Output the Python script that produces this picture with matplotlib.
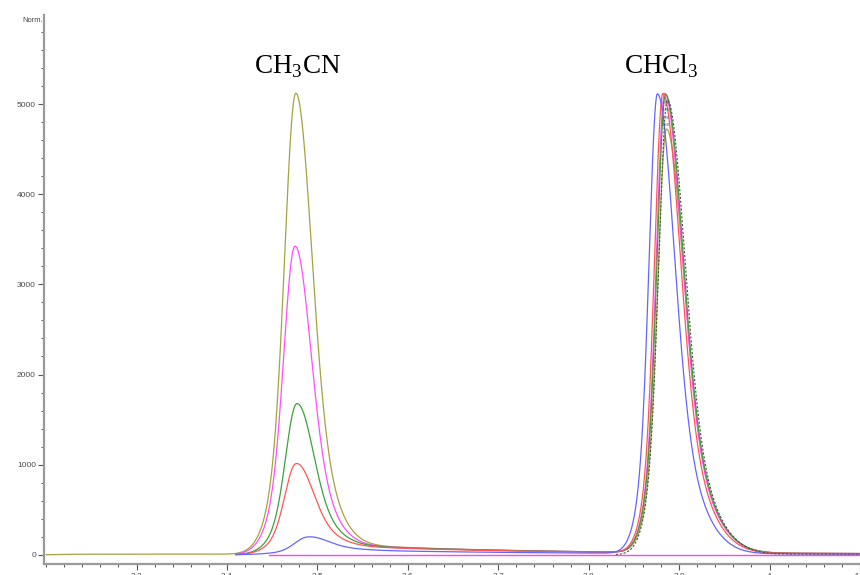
import numpy as np
import matplotlib.pyplot as plt
from matplotlib.ticker import MultipleLocator

plt.rcParams['mathtext.fontset'] = 'custom'
plt.rcParams['mathtext.rm'] = 'Liberation Serif'

# peak parameters (retention time in min, height in Norm.)
colors = ['#a3a341', '#ff4dff', '#3f9f3f', '#ff5555', '#6464ff', '#505050']
styles = ['-', '-', '-', '-', '-', '--']
start = [3.20, 3.41, 3.41, 3.41, 3.41, 3.83]

# CH3CN peak
ch3cn_rt = [3.476, 3.475, 3.477, 3.476, 3.488, 0]
ch3cn_h = [5045, 3350, 1605, 945, 160, 0]
ch3cn_sl = [0.0115, 0.0115, 0.0115, 0.0115, 0.013, 0.01]
ch3cn_sr = [0.0165, 0.0165, 0.017, 0.0175, 0.020, 0.01]
tail_amp = [138, 130, 125, 115, 60, 0]

# CHCl3 peak
chcl3_rt = [3.886, 3.884, 3.885, 3.882, 3.876, 3.887]
chcl3_h = [4700, 5095, 5085, 5095, 5100, 5040]
chcl3_sl = [0.0088, 0.0085, 0.0087, 0.0085, 0.0085, 0.0088]
chcl3_sr = [0.0180, 0.0180, 0.0180, 0.0178, 0.0175, 0.0180]

offset = [6, 8, 8, 8, 6, 6]


def peak(x, rt, h, sl, sr, kl, kr):
    d = x - rt
    s = np.where(d < 0, sl, sr)
    k = np.where(d < 0, kl, kr)
    return h * (0.7 * np.exp(-0.5 * (d / s) ** 2) + 0.3 * np.exp(-0.5 * (d / (k * s)) ** 2))


def tail(x, rt, amp, sl):
    onset = 0.5 * (1 + np.tanh((x - rt) / (1.5 * sl)))
    return amp * onset * np.exp(-np.clip(x - rt, 0, None) / 0.2)


fig = plt.figure(figsize=(8.6, 5.75), dpi=100)
ax = fig.add_axes([0.0515, 0.0186, 0.9485, 0.955])

for i in range(len(colors)):
    x = np.linspace(start[i], 4.1, 3000)
    y = np.zeros_like(x)
    if ch3cn_h[i] > 0:
        y += peak(x, ch3cn_rt[i], ch3cn_h[i], ch3cn_sl[i], ch3cn_sr[i], 1.8, 1.8)
        y += tail(x, ch3cn_rt[i], tail_amp[i], ch3cn_sl[i])
    y += peak(x, chcl3_rt[i], chcl3_h[i], chcl3_sl[i], chcl3_sr[i], 1.8, 2.0)
    ramp = np.clip((x - start[i]) / 0.03, 0, 1)
    y += offset[i] * ramp
    if styles[i] == '--':
        ax.plot(x, y, color=colors[i], lw=0.8, ls='--', dashes=(2, 1.5))
    else:
        ax.plot(x, y, color=colors[i], lw=0.9)

# blank run
ax.plot([3.447, 4.1], [0, 0], color='#ff40ff', lw=1.0)

# retention time marks at the CHCl3 apex
for yy in [5010, 4930, 4850, 4770]:
    ax.text(3.8855, yy, '3.88', fontsize=2.6, color='#555555', ha='center', va='center')

ax.text(3.4785, 5344, r'CH$_3$CN', fontsize=19.5, family='Liberation Serif',
        ha='center', va='baseline', color='black')
ax.text(3.880, 5344, r'CHCl$_3$', fontsize=19.5, family='Liberation Serif',
        ha='center', va='baseline', color='black')

ax.set_xlim(3.198, 4.095)
ax.set_ylim(-106, 5987)
ax.xaxis.set_minor_locator(MultipleLocator(0.02))
ax.yaxis.set_major_locator(MultipleLocator(1000))
ax.yaxis.set_minor_locator(MultipleLocator(200))
ax.set_xticks([3.3, 3.4, 3.5, 3.6, 3.7, 3.8, 3.9, 4.0, 4.1])
ax.set_xticklabels(['3.3', '3.4', '3.5', '3.6', '3.7', '3.8', '3.9', '4', '4.1'])

for side in ['top', 'right']:
    ax.spines[side].set_visible(False)
for side in ['left', 'bottom']:
    ax.spines[side].set_color('#9a9a9a')
    ax.spines[side].set_linewidth(1.6)

ax.tick_params(which='major', length=4, width=0.8, color='#555555', labelsize=6,
               labelcolor='#4a4a4a', pad=2)
ax.tick_params(which='minor', length=2.5, width=0.7, color='#555555')
for lab in ax.get_xticklabels() + ax.get_yticklabels():
    lab.set_family('Liberation Sans')

fig.text(43 / 860, 1 - 20 / 575, 'Norm.', fontsize=5.5, color='#4a4a4a',
         family='Liberation Sans', ha='right', va='center')

fig.savefig('out.png', dpi=100)
